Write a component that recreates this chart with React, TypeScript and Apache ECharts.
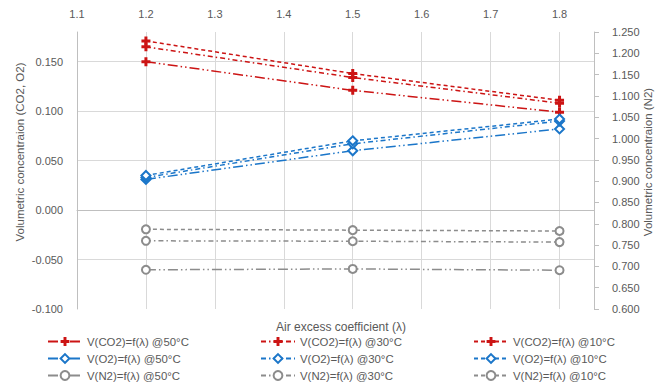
import React, { useEffect, useRef } from "react";
import * as echarts from "echarts";

const xValues = [1.2, 1.5, 1.8];
const co2At50 = [0.15, 0.121, 0.099];
const co2At30 = [0.165, 0.134, 0.108];
const co2At10 = [0.171, 0.138, 0.111];
const o2At50 = [0.031, 0.06, 0.082];
const o2At30 = [0.033, 0.067, 0.09];
const o2At10 = [0.035, 0.07, 0.092];
const n2At50 = [0.692, 0.694, 0.691];
const n2At30 = [0.76, 0.759, 0.757];
const n2At10 = [0.787, 0.785, 0.783];

const xTitle = "Air excess coefficient (λ)";
const yLeftTitle = "Volumetric concentraion (CO2, O2)";
const yRightTitle = "Volumetric concentraion (N2)";

const RED = "#CC1414";
const BLUE = "#1B76C9";
const GRAY = "#8C8C8C";
const TXT = "#595959";
const FONT = "Liberation Sans";

const PLUS = "path://M3,0H6V3H9V6H6V9H3V6H0V3H3Z";
const DASH50 = [10, 3, 1.5, 3, 1.5, 3];
const DASH30 = [5, 3, 1.5, 3];
const DASH10 = [4, 3];

function mk(
  name: string,
  vals: number[],
  color: string,
  symbol: string,
  size: number,
  dash: number[],
  n2: boolean
) {
  return {
    name,
    type: "line",
    xAxisIndex: n2 ? 1 : 0,
    yAxisIndex: n2 ? 1 : 0,
    data: xValues.map((x, i) => [x, vals[i]]),
    symbol,
    symbolSize: size,
    showAllSymbol: true,
    lineStyle: { color, width: 1.5, type: dash },
    itemStyle:
      symbol === PLUS
        ? { color, borderWidth: 0 }
        : { color, borderColor: color, borderWidth: 2 },
    emphasis: { disabled: true },
  };
}

const series = [
  mk("V(CO2)=f(λ) @50°C", co2At50, RED, PLUS, 9, DASH50, false),
  mk("V(O2)=f(λ) @50°C", o2At50, BLUE, "emptyDiamond", 9, DASH50, false),
  mk("V(N2)=f(λ) @50°C", n2At50, GRAY, "emptyCircle", 8, DASH50, true),
  mk("V(CO2)=f(λ) @30°C", co2At30, RED, PLUS, 9, DASH30, false),
  mk("V(O2)=f(λ) @30°C", o2At30, BLUE, "emptyDiamond", 9, DASH30, false),
  mk("V(N2)=f(λ) @30°C", n2At30, GRAY, "emptyCircle", 8, DASH30, true),
  mk("V(CO2)=f(λ) @10°C", co2At10, RED, PLUS, 9, DASH10, false),
  mk("V(O2)=f(λ) @10°C", o2At10, BLUE, "emptyDiamond", 9, DASH10, false),
  mk("V(N2)=f(λ) @10°C", n2At10, GRAY, "emptyCircle", 8, DASH10, true),
];

const legendCols = [
  { left: 47, names: [series[0].name, series[1].name, series[2].name] },
  { left: 260, names: [series[3].name, series[4].name, series[5].name] },
  { left: 473, names: [series[6].name, series[7].name, series[8].name] },
];

export default function App() {
  const ref = useRef<HTMLDivElement>(null);
  useEffect(() => {
    const chart = echarts.init(ref.current!, null, { renderer: "svg" });
    const axisLineStyle = { color: "#BFBFBF", width: 1 };
    const gridStyle = { color: "#D9D9D9", width: 1 };
    chart.setOption({
      animation: false,
      backgroundColor: "#fff",
      textStyle: { fontFamily: FONT },
      grid: { left: 77, right: 72, top: 32, bottom: 74 },
      xAxis: [
        {
          type: "value",
          position: "bottom",
          min: 1.1,
          max: 1.85,
          interval: 0.1,
          axisLine: { show: true, lineStyle: axisLineStyle },
          axisTick: { show: false },
          axisLabel: { show: false },
          splitLine: {
            show: true,
            showMinLine: false,
            showMaxLine: false,
            lineStyle: gridStyle,
          },
        },
        {
          type: "value",
          position: "top",
          min: 1.1,
          max: 1.85,
          interval: 0.1,
          axisLine: { show: false },
          axisTick: { show: false },
          splitLine: { show: false },
          axisLabel: {
            show: true,
            showMaxLabel: false,
            margin: 13,
            color: TXT,
            fontSize: 11,
            fontFamily: FONT,
            formatter: (v: number) => v.toFixed(1),
          },
        },
      ],
      yAxis: [
        {
          type: "value",
          position: "left",
          min: -0.1,
          max: 0.18,
          interval: 0.05,
          axisLine: { show: true, lineStyle: axisLineStyle },
          axisTick: { show: false },
          splitLine: {
            show: true,
            showMinLine: false,
            showMaxLine: false,
            lineStyle: gridStyle,
          },
          axisLabel: {
            showMaxLabel: false,
            margin: 14,
            color: TXT,
            fontSize: 11,
            fontFamily: FONT,
            formatter: (v: number) => v.toFixed(3),
          },
        },
        {
          type: "value",
          position: "right",
          min: 0.6,
          max: 1.25,
          interval: 0.05,
          axisLine: { show: true, lineStyle: axisLineStyle },
          axisTick: { show: true, inside: false, length: 5, lineStyle: axisLineStyle },
          splitLine: { show: false },
          axisLabel: {
            margin: 18,
            color: TXT,
            fontSize: 11,
            fontFamily: FONT,
            formatter: (v: number) => v.toFixed(3),
          },
        },
      ],
      legend: legendCols.map((c) => ({
        orient: "vertical",
        left: c.left,
        top: 336,
        height: 80,
        padding: 0,
        data: c.names,
        itemWidth: 34,
        itemHeight: 11,
        itemGap: 6,
        selectedMode: false,
        textStyle: { color: TXT, fontSize: 11.4, fontFamily: FONT, lineHeight: 11 },
      })),
      graphic: [
        {
          type: "text",
          x: 341,
          y: 327,
          style: {
            text: xTitle,
            align: "center",
            verticalAlign: "middle",
            fill: TXT,
            fontSize: 12,
            fontFamily: FONT,
          },
        },
        {
          type: "text",
          x: 20,
          y: 152,
          rotation: Math.PI / 2,
          style: {
            text: yLeftTitle,
            align: "center",
            verticalAlign: "middle",
            fill: TXT,
            fontSize: 11.5,
            fontFamily: FONT,
          },
        },
        {
          type: "text",
          x: 648,
          y: 162,
          rotation: Math.PI / 2,
          style: {
            text: yRightTitle,
            align: "center",
            verticalAlign: "middle",
            fill: TXT,
            fontSize: 11.5,
            fontFamily: FONT,
          },
        },
      ],
      series,
    });
    return () => chart.dispose();
  }, []);
  return (
    <div
      ref={ref}
      style={{ position: "fixed", left: 0, top: 0, width: 666, height: 383, background: "#fff" }}
    />
  );
}
